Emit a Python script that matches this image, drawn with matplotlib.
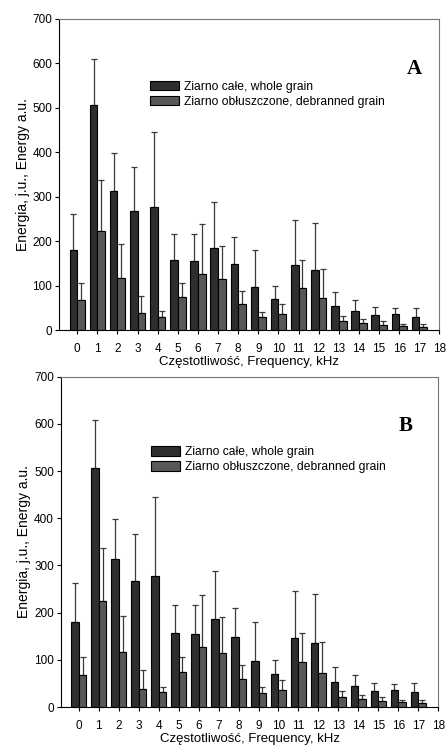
import numpy as np
import matplotlib.pyplot as plt

freq = list(range(18))
whole = [180, 507, 314, 268, 277, 157, 155, 186, 148, 97, 70, 146, 135, 54, 44, 34, 36, 31]
whole_err = [82, 102, 85, 99, 169, 59, 62, 102, 62, 84, 30, 101, 105, 31, 23, 18, 13, 19]
debr = [67, 224, 117, 38, 31, 74, 127, 115, 59, 29, 37, 95, 73, 22, 17, 13, 10, 8]
debr_err = [39, 113, 76, 40, 12, 32, 111, 75, 30, 13, 21, 62, 65, 11, 8, 9, 5, 7]
labels = ['Ziarno całe, whole grain', 'Ziarno obłuszczone, debranned grain']

plt.rcParams['font.family'] = ['Liberation Sans', 'DejaVu Sans']

fig = plt.figure(figsize=(4.48, 7.49), dpi=100)
panels = [
    ('A', [0.132, 0.559, 0.849, 0.416], (0.24, 0.80), (0.935, 0.84)),
    ('B', [0.136, 0.056, 0.842, 0.441], (0.24, 0.79), (0.915, 0.85)),
]

w = 0.38
x = np.array(freq)
for name, rect, leg_pos, lab_pos in panels:
    ax = fig.add_axes(rect)
    ax.bar(x - w, whole, w, align='edge', color='#2e2e2e', edgecolor='black', linewidth=0.8,
           label=labels[0], zorder=2)
    ax.bar(x, debr, w, align='edge', color='#585858', edgecolor='black', linewidth=0.8,
           label=labels[1], zorder=2)
    ax.errorbar(x - w / 2, whole, yerr=[np.zeros(len(whole)), whole_err], fmt='none',
                ecolor='#3a3a3a', elinewidth=0.9, capsize=2.5, capthick=0.9, zorder=1)
    ax.errorbar(x + w / 2, debr, yerr=[np.zeros(len(debr)), debr_err], fmt='none',
                ecolor='#3a3a3a', elinewidth=0.9, capsize=2.5, capthick=0.9, zorder=1)
    ax.set_xlim(-0.9, 18)
    ax.set_ylim(0, 700)
    ax.set_xticks(range(19))
    ax.set_yticks(range(0, 701, 100))
    ax.tick_params(labelsize=8.5, length=3, width=0.8, pad=2)
    ax.tick_params(axis='x', pad=6)
    for s in ['top', 'right']:
        ax.spines[s].set_color('#777777')
        ax.spines[s].set_linewidth(0.8)
    ax.set_xlabel('Częstotliwość, Frequency, kHz', fontsize=9.5, labelpad=1)
    ax.set_ylabel('Energia, j.u., Energy a.u.', fontsize=10, labelpad=2)
    ax.legend(loc='upper left', bbox_to_anchor=leg_pos, frameon=False, fontsize=8.7,
              handlelength=2.4, handleheight=0.8, handletextpad=0.4, labelspacing=0.25,
              borderpad=0, borderaxespad=0)
    ax.text(lab_pos[0], lab_pos[1], name, transform=ax.transAxes, fontsize=15,
            fontweight='bold', family='Liberation Serif', ha='center', va='center')

fig.savefig('out.png', dpi=100)
